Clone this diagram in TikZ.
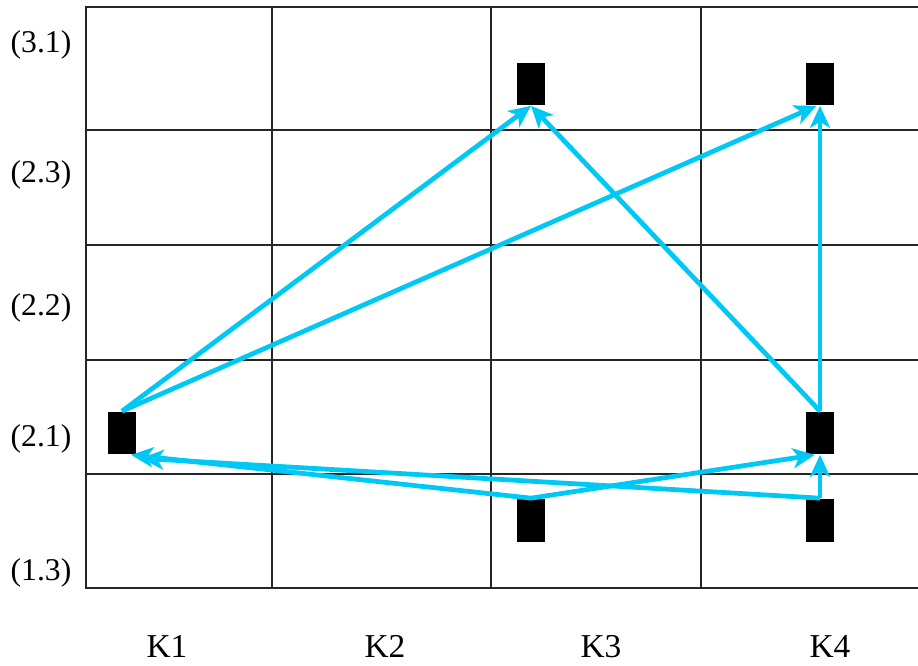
\documentclass[tikz,border=0pt]{standalone}
\usepackage{fontspec}
\setmainfont{Liberation Serif}
\usetikzlibrary{arrows.meta}
\definecolor{flowcyan}{RGB}{0,200,245}
\tikzset{
  % Grid and labels
  gridline/.style={line width=0.8pt, black!85},
  rowlabel/.style={font=\fontsize{18}{18}\selectfont, anchor=base, inner sep=0pt},
  collabel/.style={font=\fontsize{19}{19}\selectfont, anchor=base, inner sep=0pt},
  % Blocks and arrows
  blk/.style={rectangle, fill=black, minimum width=0.56cm, minimum height=0.86cm, inner sep=0pt},
  flow/.style={-{Stealth[length=4.4mm, width=4mm, inset=1.2mm]}, line width=2.7pt, flowcyan},
}

\begin{document}
\begin{tikzpicture}[x=0.02cm, y=-0.02cm]
    \useasboundingbox (0,0) rectangle (918,665);

    % Grid
    \draw[gridline] (918,7) -- (86,7) -- (86,588) -- (918,588);
    \foreach \y in {130,245,360,474} \draw[gridline] (86,\y) -- (918,\y);
    \foreach \x in {272,491,701} \draw[gridline] (\x,7) -- (\x,588);

    % Row labels
    \node[rowlabel] (r31) at (41,53) {(3.1)};
    \node[rowlabel] (r23) at (41,183) {(2.3)};
    \node[rowlabel] (r22) at (41,315) {(2.2)};
    \node[rowlabel] (r21) at (41,446) {(2.1)};
    \node[rowlabel] (r13) at (41,580) {(1.3)};

    % Column labels
    \node[collabel] (k1) at (167,657) {K1};
    \node[collabel] (k2) at (385,657) {K2};
    \node[collabel] (k3) at (601,657) {K3};
    \node[collabel] (k4) at (830,657) {K4};

    % Blocks
    \node[blk] (k1r21) at (122,433) {};
    \node[blk] (k3r31) at (531,84) {};
    \node[blk] (k4r31) at (820,84) {};
    \node[blk] (k4r21) at (820,433) {};
    \node[blk] (k3r13) at (531,520) {};
    \node[blk] (k4r13) at (820,520) {};

    % Arrows
    \draw[flow] (k1r21.north) -- (k3r31.south);
    \draw[flow] (k1r21.north) -- ([xshift=-2pt]k4r31.south);
    \draw[flow] (k4r21.north) -- (k3r31.south);
    \draw[flow] (k4r21.north) -- (k4r31.south);
    \draw[flow] (k3r13.north) -- ([xshift=-3pt]k4r21.south);
    \draw[flow] (k4r13.north) -- (k4r21.south);
    \draw[flow] (k3r13.north) -- ([xshift=-3pt]k1r21.south east);
    \draw[flow] (k4r13.north) -- ([xshift=3pt,yshift=-2pt]k1r21.south east);
\end{tikzpicture}
\end{document}
